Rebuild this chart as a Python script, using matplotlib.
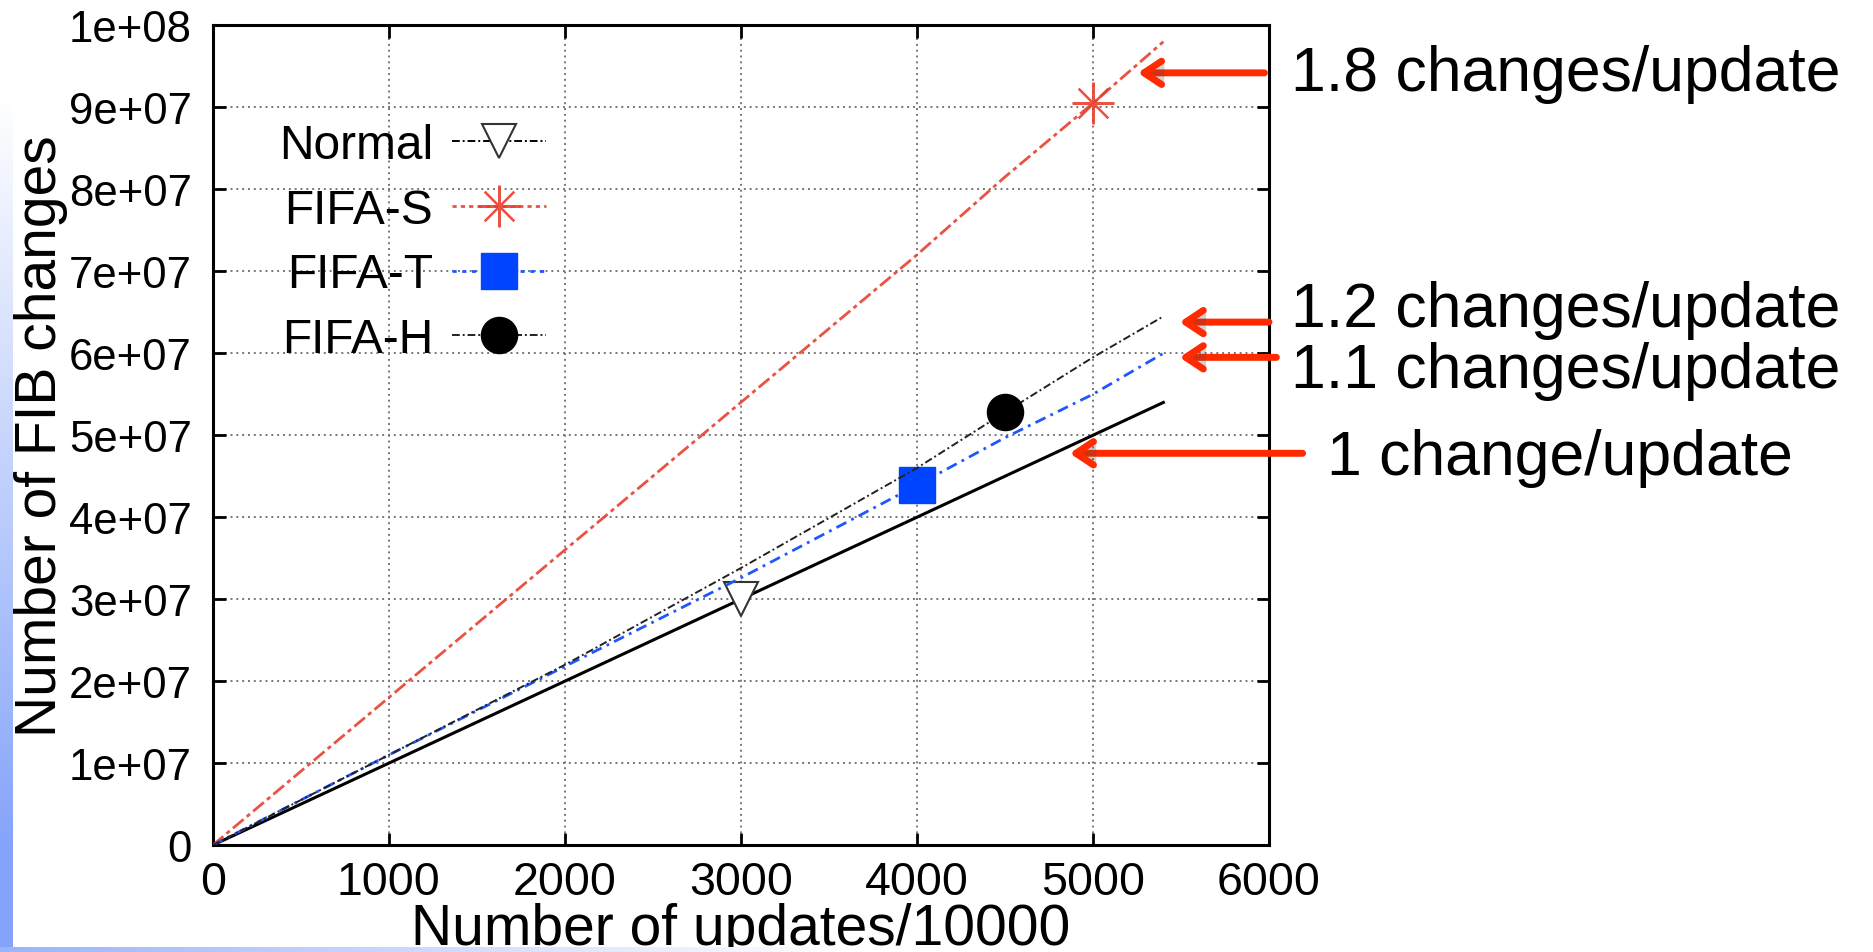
import numpy as np
import matplotlib.pyplot as plt
from matplotlib.lines import Line2D
from matplotlib import patheffects as pe

plt.rcParams['font.family'] = ['Liberation Sans', 'DejaVu Sans']

# number of updates (x 10000) and cumulative FIB changes per scheme
updates = [0, 1000, 2000, 3000, 4000, 4500, 5000, 5400]
normal = [0, 1.0e7, 2.0e7, 3.0e7, 4.0e7, 4.5e7, 5.0e7, 5.4e7]
fifa_s = [0, 1.8e7, 3.6e7, 5.4e7, 7.2e7, 8.15e7, 9.05e7, 9.8e7]
fifa_t = [0, 1.1e7, 2.18e7, 3.26e7, 4.39e7, 4.97e7, 5.5e7, 6.0e7]
fifa_h = [0, 1.1e7, 2.2e7, 3.38e7, 4.6e7, 5.28e7, 5.95e7, 6.45e7]

series_names = ['Normal', 'FIFA-S', 'FIFA-T', 'FIFA-H']
rate_labels = ['1.8 changes/update', '1.2 changes/update',
               '1.1 changes/update', '1 change/update']
yticks = [0, 1e7, 2e7, 3e7, 4e7, 5e7, 6e7, 7e7, 8e7, 9e7, 1e8]
ytick_labels = ['0', '1e+07', '2e+07', '3e+07', '4e+07', '5e+07',
                '6e+07', '7e+07', '8e+07', '9e+07', '1e+08']
xticks = [0, 1000, 2000, 3000, 4000, 5000, 6000]

W, H = 1874, 953
fig = plt.figure(figsize=(W / 100, H / 100), dpi=100)
ax = fig.add_axes([212.7 / W, 1 - 846.2 / H, (1269 - 212.7) / W, (846.2 - 26.3) / H])

RED = '#e8402e'
BLUE = '#1f57ff'

ax.plot(updates, normal, color='black', lw=2.2, marker='v', markevery=[3],
        ms=25, mfc='white', mec='#333333', mew=1.5, zorder=3)
ax.plot(updates, fifa_s, color=RED, lw=2, ls=(0, (5, 1.5, 1.5, 1.5)),
        marker=(8, 2, 0), markevery=[6], ms=30, mec=RED, mew=1.6, alpha=0.9, zorder=3)
ax.plot(updates, fifa_t, color=BLUE, lw=2, ls=(0, (4, 2, 1, 2)),
        marker='s', markevery=[4], ms=26, mfc='#0044ff', mec='#0044ff', zorder=4)
ax.plot(updates, fifa_h, color='#222222', lw=1.4, ls=(0, (4, 1.5, 1, 1.5)),
        marker='o', markevery=[5], ms=26, mfc='black', mec='black', zorder=4)

ax.set_xlim(0, 6000)
ax.set_ylim(0, 1e8)
ax.set_xticks(xticks)
ax.set_yticks(yticks)
ax.set_yticklabels(ytick_labels)
ax.tick_params(direction='in', length=9, width=2, top=True, right=True)
ax.tick_params(axis='y', pad=15, labelsize=31.5)
ax.tick_params(axis='x', pad=11, labelsize=33.5)
for s in ax.spines.values():
    s.set_linewidth(2.2)
ax.grid(True, color='#777777', lw=1.4, ls=(0, (1, 2)))

ax.set_xlabel('Number of updates/10000', fontsize=41, va='top')
ax.xaxis.set_label_coords(0.5, -0.069)
ax.set_ylabel('Number of FIB changes', fontsize=41, va='center')
ax.yaxis.set_label_coords(-0.163, 0.5)

# legend: label on the left, sample on the right
handles = [
    Line2D([], [], color='black', lw=1.4, ls=(0, (4, 1.5, 1, 1.5)), marker='v',
           ms=25, mfc='white', mec='#333333', mew=1.5),
    Line2D([], [], color=RED, lw=2, ls=(0, (1.5, 1.5)), marker=(8, 2, 0),
           ms=30, mec=RED, mew=1.6, alpha=0.9),
    Line2D([], [], color=BLUE, lw=2, ls=(0, (1.5, 2)), marker='s', ms=26,
           mfc='#0044ff', mec='#0044ff'),
    Line2D([], [], color='#222222', lw=1.4, ls=(0, (4, 1.5, 1, 1.5)), marker='o',
           ms=26, mfc='black', mec='black'),
]
fig.legend(handles, series_names, loc='upper left',
           bbox_to_anchor=(279 / W, 1 - 124 / H), frameon=False, fontsize=34.5,
           markerfirst=False, numpoints=1, handlelength=1.95, handletextpad=0.4,
           labelspacing=0.41, borderpad=0, borderaxespad=0)

# rate call-outs
ARROW = '#ff2a00'
arrows = [((5974, 9.42e7), (5255, 9.42e7)),
          ((6000, 6.38e7), (5492, 6.38e7)),
          ((6042, 5.95e7), (5492, 5.95e7)),
          ((6191, 4.78e7), (4868, 4.78e7))]
text_pos = [(1291, 74), (1291, 311), (1291, 372), (1327, 458)]
for (tail, head), label, (tx, ty) in zip(arrows, rate_labels, text_pos):
    ann = ax.annotate('', xy=head, xytext=tail, annotation_clip=False,
                      arrowprops=dict(arrowstyle='->,head_length=0.42,head_width=0.28',
                                      color=ARROW, lw=5, mutation_scale=30,
                                      shrinkA=0, shrinkB=0))
    ann.arrow_patch.set_path_effects([
        pe.SimplePatchShadow(offset=(2, -2), alpha=0.25), pe.Normal()])
    fig.text(tx / W, 1 - ty / H, label, fontsize=45, ha='left', va='center')

# slide background strips along the left and bottom edges
bg = np.ones((H, W, 4))
bg[..., 3] = 0
blue_l = np.array([0.52, 0.64, 0.98])
t = np.clip((np.arange(H) - 100) / 750, 0, 1)[:, None]
bg[:, :13, :3] = (1 - t[:, :, None]) + t[:, :, None] * blue_l
bg[:, :13, 3] = 1
blue_b = np.array([0.60, 0.71, 0.98])
s = np.clip(np.arange(W) / 850, 0, 1)[:, None]
bg[948:, :, :3] = blue_b * (1 - s) + s
bg[948:, :, 3] = 1
over = fig.add_axes([0, 0, 1, 1], zorder=10)
over.imshow(bg, extent=[0, W, H, 0], aspect='auto', interpolation='bilinear')
over.set_xlim(0, W)
over.set_ylim(H, 0)
over.axis('off')

fig.savefig('out.png', dpi=100, facecolor='white')
